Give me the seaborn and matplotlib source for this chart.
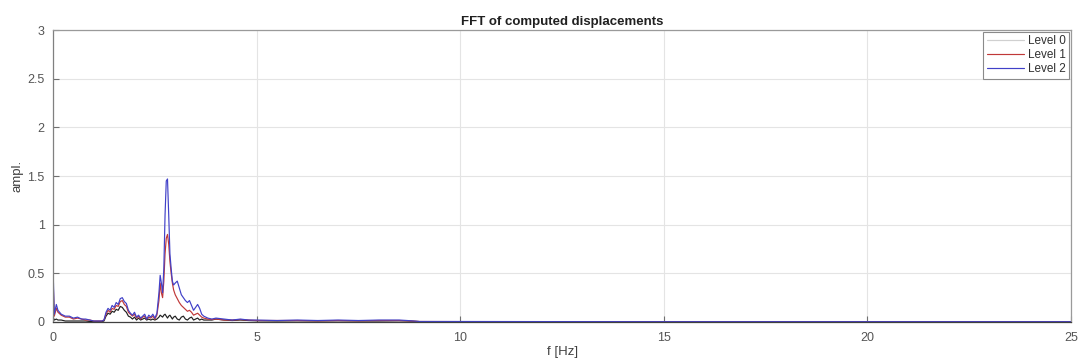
import matplotlib
matplotlib.use("Agg")
import matplotlib.pyplot as plt
import seaborn as sns
import pandas as pd

freq = [0, 0.03, 0.08, 0.12, 0.2, 0.3, 0.4, 0.5, 0.6, 0.7, 0.8, 0.9, 1.0, 1.1, 1.2,
        1.25, 1.3, 1.35, 1.4, 1.45, 1.5, 1.55, 1.6, 1.65, 1.7, 1.75, 1.8, 1.85, 1.9, 1.95,
        2.0, 2.05, 2.1, 2.15, 2.2, 2.25, 2.3, 2.35, 2.4, 2.45, 2.5, 2.55,
        2.6, 2.63, 2.66, 2.69, 2.72, 2.75, 2.78, 2.81, 2.84, 2.87, 2.9, 2.93, 2.96,
        3.0, 3.05, 3.1, 3.15, 3.2, 3.25, 3.3, 3.35, 3.4, 3.45, 3.5, 3.55, 3.6, 3.65, 3.7,
        3.8, 3.9, 4.0, 4.2, 4.4, 4.6, 4.8, 5.0, 5.5, 6.0, 6.5, 7.0, 7.5, 8.0, 8.5, 8.7,
        9.0, 10, 12, 15, 20, 25]

level2 = [0.55, 0.08, 0.18, 0.12, 0.08, 0.06, 0.06, 0.04, 0.05, 0.03, 0.03, 0.02, 0.01, 0.01, 0.01,
          0.02, 0.10, 0.14, 0.12, 0.17, 0.15, 0.20, 0.18, 0.24, 0.25, 0.21, 0.19, 0.12, 0.09, 0.07,
          0.10, 0.05, 0.07, 0.04, 0.06, 0.08, 0.03, 0.07, 0.05, 0.08, 0.04, 0.09,
          0.30, 0.48, 0.40, 0.30, 0.55, 1.10, 1.45, 1.47, 1.10, 0.70, 0.55, 0.42, 0.38,
          0.40, 0.42, 0.35, 0.28, 0.25, 0.22, 0.20, 0.22, 0.17, 0.12, 0.15, 0.18, 0.14, 0.08, 0.06,
          0.04, 0.03, 0.04, 0.03, 0.02, 0.03, 0.02, 0.02, 0.015, 0.02, 0.015, 0.02, 0.015, 0.02, 0.02, 0.015,
          0.005, 0.005, 0.004, 0.003, 0.003, 0.003]

level1 = [0.45, 0.06, 0.14, 0.10, 0.07, 0.05, 0.05, 0.03, 0.04, 0.03, 0.02, 0.02, 0.01, 0.01, 0.01,
          0.02, 0.08, 0.12, 0.10, 0.14, 0.13, 0.17, 0.16, 0.21, 0.22, 0.18, 0.16, 0.10, 0.08, 0.06,
          0.08, 0.04, 0.06, 0.03, 0.05, 0.06, 0.03, 0.05, 0.04, 0.06, 0.03, 0.07,
          0.22, 0.40, 0.30, 0.25, 0.42, 0.70, 0.86, 0.90, 0.80, 0.62, 0.50, 0.40, 0.33,
          0.28, 0.24, 0.20, 0.17, 0.15, 0.13, 0.11, 0.12, 0.10, 0.07, 0.08, 0.09, 0.07, 0.05, 0.04,
          0.03, 0.025, 0.03, 0.02, 0.02, 0.025, 0.02, 0.015, 0.015, 0.015, 0.012, 0.015, 0.012, 0.015, 0.015, 0.012,
          0.005, 0.004, 0.003, 0.003, 0.003, 0.003]

level0 = [0.05, 0.02, 0.03, 0.02, 0.02, 0.01, 0.01, 0.01, 0.01, 0.01, 0.01, 0.005, 0.005, 0.005, 0.005,
          0.01, 0.06, 0.09, 0.08, 0.11, 0.10, 0.13, 0.12, 0.16, 0.15, 0.12, 0.10, 0.06, 0.05, 0.03,
          0.05, 0.02, 0.04, 0.02, 0.03, 0.04, 0.02, 0.03, 0.02, 0.03, 0.02, 0.03,
          0.05, 0.07, 0.06, 0.05, 0.07, 0.08, 0.06, 0.04, 0.06, 0.07, 0.05, 0.03, 0.05,
          0.06, 0.03, 0.02, 0.05, 0.06, 0.03, 0.02, 0.04, 0.05, 0.02, 0.03, 0.04, 0.02, 0.03, 0.02,
          0.02, 0.02, 0.03, 0.02, 0.015, 0.02, 0.015, 0.012, 0.01, 0.012, 0.01, 0.012, 0.01, 0.01, 0.012, 0.01,
          0.004, 0.003, 0.003, 0.002, 0.002, 0.002]

labels = ["Level 0", "Level 1", "Level 2"]
colors = ["#202020", "#c03838", "#4040c8"]
xticks = [0, 5, 10, 15, 20, 25]
yticks = [0, 0.5, 1, 1.5, 2, 2.5, 3]
yticklabels = ["0", "0.5", "1", "1.5", "2", "2.5", "3"]

df = pd.concat([
    pd.DataFrame({"f": freq, "ampl": vals, "level": lab})
    for vals, lab in zip([level0, level1, level2], labels)
])

sns.set_theme(style="white")
plt.rcParams['font.family'] = ['Liberation Sans', 'DejaVu Sans']

fig = plt.figure(figsize=(10.83, 3.63), dpi=100)
ax = fig.add_axes([0.049, 0.113, 0.940, 0.804])

sns.lineplot(data=df, x="f", y="ampl", hue="level", palette=dict(zip(labels, colors)),
             linewidth=0.85, ax=ax, sort=False, estimator=None)

ax.set_xlim(0, 25)
ax.set_ylim(0, 3)
ax.set_xticks(xticks)
ax.set_yticks(yticks)
ax.set_yticklabels(yticklabels)
ax.grid(True, color="#e4e4e4", linewidth=0.8)
ax.set_axisbelow(True)
for s in ax.spines.values():
    s.set_color("#9a9a9a")
    s.set_linewidth(0.9)
ax.spines["bottom"].set_color("#404040")
ax.spines["left"].set_color("#808080")
ax.tick_params(direction="in", length=4, width=0.8, colors="#707070", labelsize=9,
               labelcolor="#555555", top=False, right=False, bottom=True, left=True)
ax.tick_params(axis="x", pad=7)
ax.tick_params(axis="y", pad=6)
ax.set_xlabel("f [Hz]", fontsize=9.5, color="#404040", labelpad=2)
ax.set_ylabel("ampl.", fontsize=9.5, color="#404040", labelpad=3)
ax.set_title("FFT of computed displacements", fontsize=9.5, fontweight="bold", color="#202020", pad=4)

leg = ax.legend(loc="upper right", fontsize=8.5, frameon=True, fancybox=False,
                edgecolor="#8a8a8a", framealpha=1, borderaxespad=0.15,
                handlelength=3.2, handletextpad=0.3, labelspacing=0.15, borderpad=0.3)
leg.get_frame().set_linewidth(0.8)
leg.get_lines()[0].set_color("#d0d0d0")
for t in leg.get_texts():
    t.set_color("#303030")

fig.savefig("out.png", dpi=100)
